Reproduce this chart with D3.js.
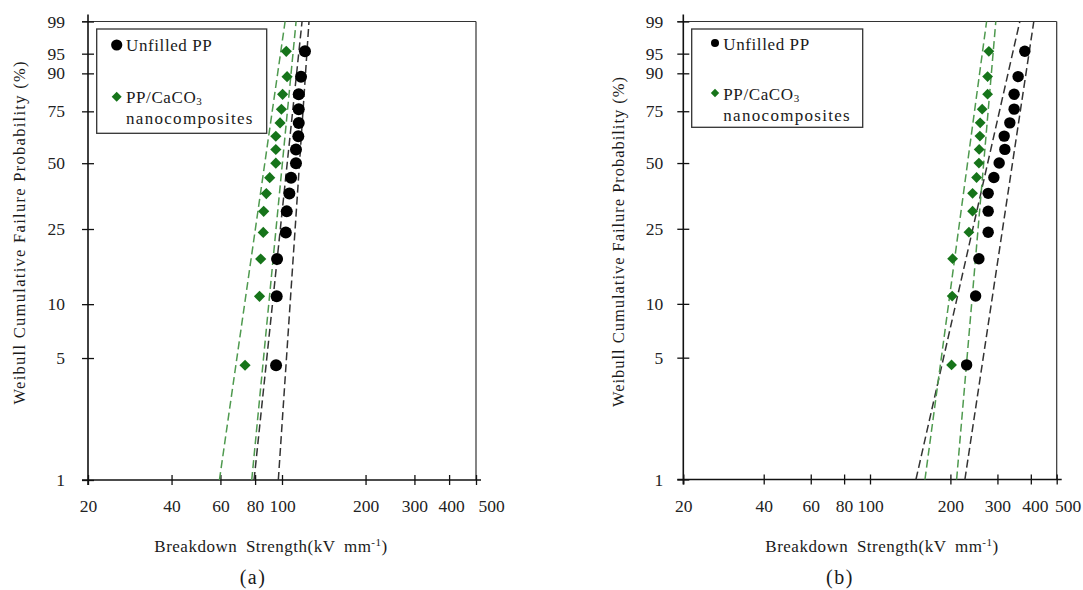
<!DOCTYPE html>
<html>
<head>
<meta charset="utf-8">
<script src="https://cdn.jsdelivr.net/npm/d3@7"></script>
<style>
body{margin:0;background:#fff;}
svg text{font-family:'Liberation Serif','Times New Roman','DejaVu Serif',serif;fill:#1a1a1a;}
</style>
</head>
<body>
<div id="canvas" class="canvas"></div>
<script>
// axis ticks
var probTicks = [1, 5, 10, 25, 50, 75, 90, 95, 99];
var strengthTicks = [20, 40, 60, 80, 100, 200, 300, 400, 500];

// plotting positions (%) shared by every series, 15 samples each
var failureProb = [4.55, 11.04, 17.53, 24.03, 30.52, 37.01, 43.51, 50.0, 56.49, 62.99, 69.48, 75.97, 82.47, 88.96, 95.45];

var seriesNames = ['Unfilled PP', 'PP/CaCO3 nanocomposites'];

// breakdown strength, kV/mm
var unfilledA = [95.2, 95.7, 96.0, 103.2, 104.0, 106.3, 107.8, 112.3, 112.3, 114.5, 114.9, 114.9, 114.9, 117.1, 121.0];
var compositeA = [73.6, 83.0, 83.8, 85.6, 85.9, 87.8, 90.3, 95.0, 95.0, 95.0, 98.4, 99.5, 100.5, 104.3, 103.6];
var unfilledB = [230, 248.6, 255.7, 277, 277, 277, 290.9, 304.5, 319.8, 318, 333.8, 346.4, 346.4, 358.6, 379.8];
var compositeB = [202, 203.1, 203.8, 234.6, 242.1, 242.1, 250.6, 255.7, 256.3, 257.9, 258.5, 263, 275.6, 275.6, 278.6];

// dashed bound lines: strength at 1% and at 99%
var unfilledBoundsA = [[79.3, 118.1], [97.0, 125.1]];
var compositeBoundsA = [[59.5, 102.6], [77.8, 112.4]];
var unfilledBoundsB = [[148.6, 363.8], [226.6, 410.4]];
var compositeBoundsB = [[160.6, 273.2], [211, 295.8]];

var green = '#16741a', greenLine = '#4f9a4f', darkLine = '#333';
var serif = "'Liberation Serif','Times New Roman','DejaVu Serif',serif";

var svg = d3.select('.canvas').append('svg')
    .attr('width', 1083).attr('height', 590)
    .attr('font-family', serif);

var wb = function(f){ return Math.log(-Math.log(1 - f / 100)); };
var unwb = function(w){ return 100 * (1 - Math.exp(-Math.exp(w))); };

function diamond(s){
    return 'M0,' + (-s) + 'L' + s + ',0L0,' + s + 'L' + (-s) + ',0Z';
}

function drawPanel(p){
    var x = d3.scaleLog().domain([20, 500]).range([p.l, p.r]);
    var yw = d3.scaleLinear().domain([wb(1), wb(99)]).range([p.b, p.t]);
    var y = function(f){ return yw(wb(f)); };

    var g = svg.append('g').attr('class', 'panel');

    // frame
    g.append('line').attr('x1', p.l - 6).attr('x2', p.r).attr('y1', p.t).attr('y2', p.t)
        .style('stroke', '#333').style('stroke-width', 1.2);
    g.append('line').attr('x1', p.r).attr('x2', p.r).attr('y1', p.t).attr('y2', p.b)
        .style('stroke', '#333').style('stroke-width', 1.2);

    // x axis
    var xa = g.append('g').attr('transform', 'translate(0,' + p.b + ')')
        .call(d3.axisBottom(x).tickValues(strengthTicks).tickFormat(d3.format('d')).tickSizeOuter(0));
    xa.attr('font-family', serif).attr('font-size', 17.5);
    xa.select('.domain').remove();
    xa.selectAll('.tick line').attr('y1', -5).attr('y2', 5).style('stroke', '#111').style('stroke-width', 1.3);
    xa.selectAll('.tick text').attr('y', 20).attr('dy', '0.71em').style('fill', '#222')
        .attr('x', function(d){ return d === 500 ? p.shift500 : (d === 400 ? p.shift400 : 0); });
    g.append('line').attr('x1', p.l - 6).attr('x2', p.r + 5).attr('y1', p.b).attr('y2', p.b)
        .style('stroke', '#111').style('stroke-width', 1.6);

    // y axis on the Weibull scale
    var ya = g.append('g').attr('transform', 'translate(' + p.l + ',0)')
        .call(d3.axisLeft(yw).tickValues(probTicks.map(wb))
            .tickFormat(function(d){ return Math.round(unwb(d)); }).tickSizeOuter(0));
    ya.attr('font-family', serif).attr('font-size', 17.5);
    ya.select('.domain').remove();
    ya.selectAll('.tick line').attr('x1', -6).attr('x2', 6).style('stroke', '#111').style('stroke-width', 1.3);
    ya.selectAll('.tick text').attr('x', -p.labelGap).style('fill', '#222');
    g.append('line').attr('x1', p.l).attr('x2', p.l).attr('y1', p.t - 7).attr('y2', p.b + 5)
        .style('stroke', '#111').style('stroke-width', 1.6);

    // dashed bounds
    var lines = [];
    p.bounds[0].forEach(function(b){ lines.push({v: b, c: darkLine}); });
    p.bounds[1].forEach(function(b){ lines.push({v: b, c: greenLine}); });
    g.selectAll('.bound').data(lines).enter().append('line').attr('class', 'bound')
        .attr('x1', function(d){ return x(d.v[0]); }).attr('y1', y(1))
        .attr('x2', function(d){ return x(d.v[1]); }).attr('y2', y(99))
        .style('stroke', function(d){ return d.c; })
        .style('stroke-width', 1.5).style('stroke-dasharray', '8,4');

    // points
    g.selectAll('.circ').data(p.unfilled).enter().append('circle').attr('class', 'circ')
        .attr('cx', function(d){ return x(d); })
        .attr('cy', function(d, i){ return y(failureProb[i]); })
        .attr('r', p.r1).style('fill', '#000');
    g.selectAll('.dia').data(p.composite).enter().append('path').attr('class', 'dia')
        .attr('d', diamond(p.d1))
        .attr('transform', function(d, i){ return 'translate(' + x(d) + ',' + y(failureProb[i]) + ')'; })
        .style('fill', green);

    // legend
    var lg = p.legend;
    g.append('rect').attr('x', lg.x).attr('y', lg.y).attr('width', lg.w).attr('height', lg.h)
        .style('fill', '#fff').style('stroke', '#333').style('stroke-width', 1.3);
    g.append('circle').attr('cx', lg.mx).attr('cy', lg.y1).attr('r', lg.mr).style('fill', '#000');
    g.append('path').attr('d', diamond(lg.md))
        .attr('transform', 'translate(' + lg.mx + ',' + lg.y2 + ')').style('fill', green);
    g.append('text').attr('x', lg.tx).attr('y', lg.b1).style('font-size', '17px')
        .style('letter-spacing', '0.6px').text(seriesNames[0]);
    var t2 = g.append('text').attr('x', lg.tx).attr('y', lg.b2).style('font-size', '17px')
        .style('letter-spacing', '0.6px');
    t2.append('tspan').text('PP/CaCO');
    t2.append('tspan').attr('dy', 2).style('font-size', '11px').text('3');
    g.append('text').attr('x', lg.tx).attr('y', lg.b3).style('font-size', '17px')
        .style('letter-spacing', '1.3px').text(seriesNames[1].split(' ')[1]);

    // titles
    var xt = g.append('text').attr('x', p.xtx).attr('y', 552).attr('text-anchor', 'middle')
        .style('font-size', '17px').style('letter-spacing', '0.5px').style('word-spacing', '4px');
    xt.append('tspan').text('Breakdown Strength(kV mm');
    xt.append('tspan').attr('dy', -6).style('font-size', '11px').text('-1');
    xt.append('tspan').attr('dy', 6).text(')');

    g.append('text').attr('transform', 'translate(' + p.ytx + ',' + p.yty + ') rotate(-90)')
        .attr('text-anchor', 'middle').attr('dy', '0.35em')
        .attr('textLength', p.ytl).attr('lengthAdjust', 'spacing')
        .style('font-size', '16.5px')
        .text('Weibull Cumulative Failure Probability (%)');

    g.append('text').attr('x', p.capx).attr('y', 584).attr('text-anchor', 'middle')
        .style('font-size', '20px').style('letter-spacing', '1.5px').text(p.caption);
}

drawPanel({
    l: 88, r: 476, t: 21.5, b: 480, labelGap: 23, shift400: 2, shift500: 15,
    unfilled: unfilledA, composite: compositeA,
    bounds: [unfilledBoundsA, compositeBoundsA],
    r1: 6, d1: 5.6,
    legend: {x: 96.7, y: 29, w: 170, h: 104.3, mx: 116.7, y1: 45, y2: 96.7, mr: 5.6, md: 5,
             tx: 126, b1: 51, b2: 103, b3: 124},
    xtx: 271, ytx: 19, yty: 233, ytl: 343, capx: 253, caption: '(a)'
});

drawPanel({
    l: 683.3, r: 1056.7, t: 21.5, b: 479.5, labelGap: 20, shift400: 4, shift500: 11,
    unfilled: unfilledB, composite: compositeB,
    bounds: [unfilledBoundsB, compositeBoundsB],
    r1: 5.7, d1: 5.4,
    legend: {x: 691.7, y: 29, w: 171, h: 98.3, mx: 715, y1: 43, y2: 93, mr: 4, md: 4.2,
             tx: 723.3, b1: 49.5, b2: 99.5, b3: 120.7},
    xtx: 882, ytx: 618, yty: 242, ytl: 330, capx: 840, caption: '(b)'
});
</script>
</body>
</html>
